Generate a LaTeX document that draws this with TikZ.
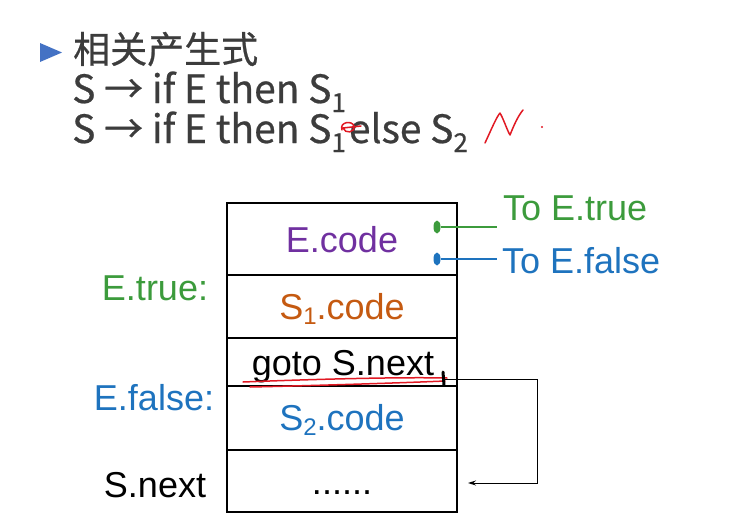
\documentclass[tikz,border=0pt]{standalone}
\usepackage{fontspec}
\setmainfont{Liberation Sans}
\newfontfamily\cjk[FakeBold=0.6]{Noto Sans CJK SC}
\usetikzlibrary{arrows.meta,shapes.geometric}
\definecolor{headgray}{RGB}{60,60,60}
\definecolor{bulletblue}{RGB}{68,114,196}
\definecolor{ecol}{RGB}{112,48,160}
\definecolor{scol}{RGB}{197,90,17}
\definecolor{tgreen}{RGB}{60,155,60}
\definecolor{fblue}{RGB}{30,115,190}
\definecolor{inkred}{RGB}{225,25,35}
\newcommand{\lowidx}[3]{\raisebox{#1}{\fontsize{#2}{#2}\selectfont #3}}
\begin{document}
\begin{tikzpicture}[x=1pt,y=-1pt,
  every node/.style={font=\fontsize{36}{40}\selectfont, inner sep=0pt},
  cell/.style={draw, line width=1.6pt, minimum width=230pt},
  txt/.style={anchor=base},
  head/.style={anchor=base west, text=headgray, font=\cjk\fontsize{39}{44}\selectfont},
  jumpdot/.style={ellipse, minimum width=7pt, minimum height=13pt},
  ink/.style={draw=inkred, line width=1.5pt, line cap=round, line join=round}]
\useasboundingbox (0,0) rectangle (729,530);
% header
\fill[bulletblue] (40,43) -- (40,62) -- (62,52.5) -- cycle;
\node[head, font=\cjk\fontsize{37}{40}\selectfont] (title) at (73,63) {相关产生式};
\node[head] (prodA) at (72,103) {S → if E then S\lowidx{-9pt}{26}{1}};
\node[head] (prodB) at (72,143) {S → if E then S\lowidx{-9pt}{26}{1}\hspace{3pt}else S\lowidx{-9pt}{26}{2}};
% code layout
\node[cell, minimum height=72pt] (ecell) at (342,239) {};
\node[cell, minimum height=63pt] (s1cell) at (342,306.5) {};
\node[cell, minimum height=48pt] (gotocell) at (342,362) {};
\node[cell, minimum height=64pt] (s2cell) at (342,418) {};
\node[cell, minimum height=62pt] (nextcell) at (342,481) {};
\node[txt, text=ecol] (ecode) at (342,252) {E.code};
\node[txt, text=scol] (s1code) at (342,319) {S\lowidx{-5pt}{24}{1}.code};
\node[txt] (gotonext) at (343,375) {goto S.next};
\node[txt, text=fblue] (s2code) at (342,430) {S\lowidx{-5pt}{24}{2}.code};
\node[txt] (dots) at (342,494) {......};
% labels on the left
\node[txt, text=tgreen] (etrue) at (155,300) {E.true:};
\node[txt, text=fblue] (efalse) at (154,410) {E.false:};
\node[txt] (snext) at (155,497) {S.next};
% jumps of E
\node[jumpdot, fill=tgreen] (tdot) at (437,227) {};
\node[jumpdot, fill=fblue] (fdot) at (437,259) {};
\coordinate (tend) at (497,227);
\coordinate (fend) at (497,259);
\node[anchor=base west, text=tgreen] (totrue) at (503,220) {To E.true};
\node[anchor=base west, text=fblue] (tofalse) at (502,273) {To E.false};
\draw[tgreen, line width=1.3pt] (tdot) -- (tend);
\draw[fblue, line width=1.3pt] (fdot) -- (fend);
% goto S.next
\coordinate (gotoend) at (443,379);
\coordinate (nextin) at (468,483);
\draw[line width=1pt, -{Stealth[length=8pt,width=5pt]}] (gotoend) -- (537,379) -- (537,483) -- (nextin);
% pen marks
\draw[ink] (243,382) .. controls (320,379) and (400,377) .. (447,378);
\draw[ink] (250,387) .. controls (300,386) and (400,383) .. (445,381);
\draw[black, line width=3pt, line cap=round] (443,372) -- (444,385);
\draw[ink] (342,130) .. controls (339,122) and (352,120) .. (354,126) .. controls (355,133) and (345,134) .. (343,128) -- (361,126);
\draw[ink] (485,143) .. controls (492,128) and (496,118) .. (500,113) .. controls (504,120) and (507,130) .. (510,135) .. controls (514,125) and (518,116) .. (523,110);
\fill[inkred] (542,127) circle (1.2);
\end{tikzpicture}
\end{document}
